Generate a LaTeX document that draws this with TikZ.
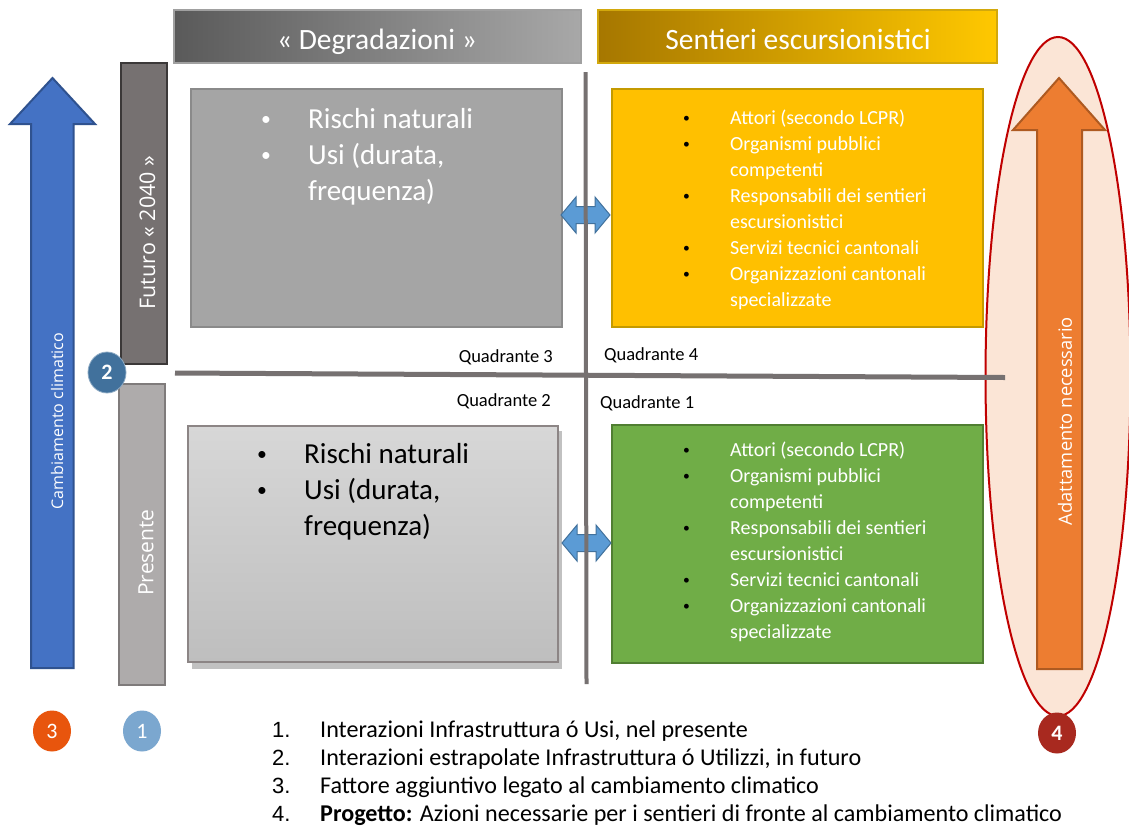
\documentclass[tikz,border=0pt]{standalone}
\usepackage{fontspec}
\setmainfont{Carlito}
\newfontfamily\osans{Open Sans}
\newfontfamily\arialf{Liberation Sans}
\usetikzlibrary{shapes.geometric}
\newcommand\mybul{\raisebox{0.09em}{\scalebox{0.68}{•}}}
\newcommand\mybulk{\textcolor{black}{\mybul}}
\definecolor{hdrdark}{HTML}{5A5A5A}
\definecolor{hdrlight}{HTML}{A8A8A8}
\definecolor{hdrborder}{HTML}{A0A0A0}
\definecolor{golddark}{HTML}{A67700}
\definecolor{goldlight}{HTML}{FFC800}
\definecolor{goldborder}{HTML}{D2A80C}
\definecolor{qthreefill}{HTML}{A5A5A5}
\definecolor{qthreeborder}{HTML}{8A8A8A}
\definecolor{qfourfill}{HTML}{FFC000}
\definecolor{qfourborder}{HTML}{C49A00}
\definecolor{qonefill}{HTML}{70AD47}
\definecolor{qoneborder}{HTML}{507E32}
\definecolor{qtwotop}{HTML}{D7D7D7}
\definecolor{qtwobot}{HTML}{BEBEBE}
\definecolor{qtwoborder}{HTML}{8C8585}
\definecolor{linegray}{HTML}{767171}
\definecolor{futfill}{HTML}{767171}
\definecolor{futborder}{HTML}{3B3838}
\definecolor{presfill}{HTML}{AEABAB}
\definecolor{presborder}{HTML}{7F7B7B}
\definecolor{bluearrow}{HTML}{4472C4}
\definecolor{bluearrowb}{HTML}{2F528F}
\definecolor{dblarrow}{HTML}{5B9BD5}
\definecolor{dblarrowb}{HTML}{41719C}
\definecolor{orarrow}{HTML}{ED7D31}
\definecolor{orarrowb}{HTML}{AE5A21}
\definecolor{ellfill}{HTML}{FBE5D6}
\definecolor{ellborder}{HTML}{C00000}
\definecolor{ctwo}{HTML}{41719C}
\definecolor{cthree}{HTML}{E8550D}
\definecolor{cone}{HTML}{7BA7CF}
\definecolor{cfour}{HTML}{A8291F}
\begin{document}
\begin{tikzpicture}[x=1pt,y=-1pt,
  boxnode/.style={draw, line width=2pt, anchor=north west, inner sep=0pt, outer sep=0pt},
  hdrtext/.style={anchor=base, inner sep=0pt, text=white, font=\fontsize{29.5}{35}\selectfont},
  bigtext/.style={anchor=base west, inner sep=0pt, font=\fontsize{29}{36}\selectfont},
  smalltext/.style={anchor=base west, inner sep=0pt, text=white, font=\fontsize{20}{26.1}\selectfont},
  quadlabel/.style={inner sep=0pt, font=\fontsize{18.5}{22}\selectfont},
  vlabel/.style={rotate=90, inner sep=0pt, text=white},
  badge/.style={ellipse, minimum width=38pt, minimum height=41pt, inner sep=0pt, text=white, font=\fontsize{22}{26}\selectfont},
  bigarrow/.style={line width=2pt, line join=miter},
  dbl/.style={fill=dblarrow, draw=dblarrowb, line width=1pt, line join=miter}
]
\useasboundingbox (0,0) rectangle (1129,828);
\fill[white] (0,0) rectangle (1129,828);

% headers
\node[boxnode, draw=hdrborder, left color=hdrdark, right color=hdrlight, minimum width=407pt, minimum height=53pt] (deg) at (174,10) {};
\node[hdrtext] (degt) at (377,49) {« Degradazioni »};
\node[boxnode, draw=goldborder, left color=golddark, right color=goldlight, minimum width=399pt, minimum height=53pt] (sent) at (598,10) {};
\node[hdrtext] (sentt) at (798,49) {Sentieri escursionistici};

% left arrow
\draw[bigarrow, fill=bluearrow, draw=bluearrowb] (31,668) -- (31,124) -- (10,124) -- (52.5,78) -- (95,124) -- (73.5,124) -- (73.5,668) -- cycle;
\node[vlabel, font=\osans\fontsize{16}{19}\selectfont] (clim) at (57,421) {Cambiamento climatico};

% time bars
\node[boxnode, fill=futfill, draw=futborder, minimum width=46pt, minimum height=301pt] (fut) at (120.5,62.5) {};
\node[vlabel, font=\osans\fontsize{21.5}{25}\selectfont] (futt) at (147.5,232.5) {Futuro « 2040 »};
\node[boxnode, fill=presfill, draw=presborder, minimum width=46pt, minimum height=301pt] (pres) at (119,383.5) {};
\node[vlabel, font=\osans\fontsize{21}{25}\selectfont] (prest) at (146,552.5) {Presente};

% ellipse and orange arrow
\node[ellipse, draw=ellborder, fill=ellfill, line width=2pt, minimum width=145pt, minimum height=679pt, inner sep=0pt] (ell) at (1058,376.5) {};
\draw[bigarrow, fill=orarrow, draw=orarrowb] (1037,669) -- (1037,130) -- (1013,130) -- (1059,78) -- (1105,130) -- (1082,130) -- (1082,669) -- cycle;
\node[vlabel, font=\osans\fontsize{18.3}{22}\selectfont] (adat) at (1065,421) {Adattamento necessario};

% quadrant boxes
\node[boxnode, fill=qthreefill, draw=qthreeborder, minimum width=371pt, minimum height=238pt] (q3) at (190.5,89) {};
\node[bigtext, text=white] (q3t) at (261,128) {\begin{tabular}[t]{@{}p{47pt}@{}l@{}}\mybul&Rischi naturali\\ \mybul&Usi (durata,\\ &frequenza)\end{tabular}};

\fill[gray!60, opacity=0.8] (192,431) rectangle (562,669);
\node[boxnode, top color=qtwotop, bottom color=qtwobot, draw=qtwoborder, line width=1.5pt, minimum width=370pt, minimum height=236pt] (q2) at (188,426) {};
\node[bigtext, text=black] (q2t) at (257,463) {\begin{tabular}[t]{@{}p{47pt}@{}l@{}}\mybul&Rischi naturali\\ \mybul&Usi (durata,\\ &frequenza)\end{tabular}};

\node[boxnode, fill=qfourfill, draw=qfourborder, minimum width=371pt, minimum height=238pt] (q4) at (612,89) {};
\node[smalltext] (q4t) at (683,124) {\begin{tabular}[t]{@{}p{47pt}@{}l@{}}\mybulk&Attori (secondo LCPR)\\ \mybulk&Organismi pubblici\\ &competenti\\ \mybulk&Responsabili dei sentieri\\ &escursionistici\\ \mybulk&Servizi tecnici cantonali\\ \mybulk&Organizzazioni cantonali\\ &specializzate\end{tabular}};

\node[boxnode, fill=qonefill, draw=qoneborder, minimum width=371pt, minimum height=238pt] (q1) at (612,425) {};
\node[smalltext] (q1t) at (683,456) {\begin{tabular}[t]{@{}p{47pt}@{}l@{}}\mybulk&Attori (secondo LCPR)\\ \mybulk&Organismi pubblici\\ &competenti\\ \mybulk&Responsabili dei sentieri\\ &escursionistici\\ \mybulk&Servizi tecnici cantonali\\ \mybulk&Organizzazioni cantonali\\ &specializzate\end{tabular}};

% double arrows
\draw[dbl] (561,215) -- (576,197) -- (576,206.5) -- (595,206.5) -- (595,197) -- (610,215) -- (595,233) -- (595,223.5) -- (576,223.5) -- (576,233) -- cycle;
\draw[dbl] (562,543) -- (577,525) -- (577,534.5) -- (596,534.5) -- (596,525) -- (611,543) -- (596,561) -- (596,551.5) -- (577,551.5) -- (577,561) -- cycle;

% axes
\coordinate (hl) at (175,373);
\coordinate (hr) at (1005,377.5);
\coordinate (vt) at (585.5,72);
\coordinate (vb) at (586.5,684);
\draw[linegray, line width=5pt] (hl) -- (hr);
\draw[linegray, line width=4pt] (vt) -- (vb);

% quadrant labels
\node[quadlabel, anchor=base east] (lq3) at (553,362) {Quadrante 3};
\node[quadlabel, anchor=base west] (lq4) at (604,360) {Quadrante 4};
\node[quadlabel, anchor=base east] (lq2) at (551,406) {Quadrante 2};
\node[quadlabel, anchor=base west] (lq1) at (600,408) {Quadrante 1};

% badges
\node[badge, fill=ctwo, draw=ctwo!60!white, line width=0.8pt, font=\bfseries\fontsize{22}{26}\selectfont] (b2) at (107,372.5) {2};
\node[badge, fill=cthree] (b3) at (52,731) {3};
\node[badge, fill=cone] (b1) at (142,731) {1};
\node[badge, fill=cfour, font=\bfseries\fontsize{22}{26}\selectfont] (b4) at (1057,733) {4};

% legend
\node[anchor=base west, inner sep=0pt, font=\fontsize{24.1}{28}\selectfont] (legend) at (272,737) {\begin{tabular}[t]{@{}p{48pt}@{}l@{}}{\arialf\fontsize{22}{28}\selectfont 1.}&Interazioni Infrastruttura ó Usi, nel presente\\ {\arialf\fontsize{22}{28}\selectfont 2.}&Interazioni estrapolate Infrastruttura ó Utilizzi, in futuro\\ {\arialf\fontsize{22}{28}\selectfont 3.}&Fattore aggiuntivo legato al cambiamento climatico\\ {\arialf\fontsize{22}{28}\selectfont 4.}&\textbf{Progetto:} Azioni necessarie per i sentieri di fronte al cambiamento climatico\end{tabular}};
\end{tikzpicture}
\end{document}
